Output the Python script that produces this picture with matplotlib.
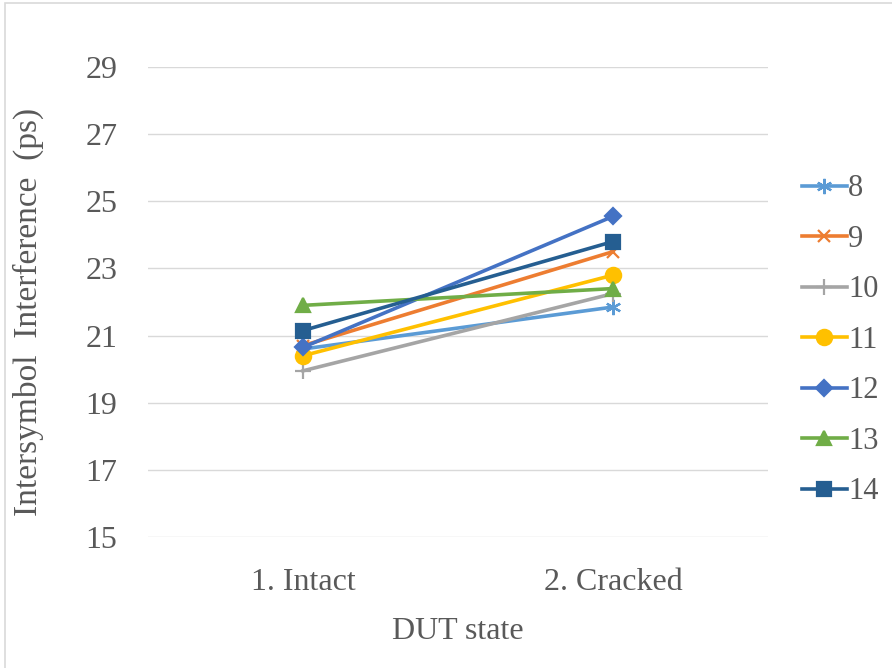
import matplotlib.pyplot as plt
from matplotlib.patches import Rectangle

plt.rcParams["font.family"] = ["Liberation Serif", "DejaVu Serif"]

states = ["1. Intact", "2. Cracked"]
series = ["8", "9", "10", "11", "12", "13", "14"]
intact = [20.6, 20.7, 19.95, 20.4, 20.65, 21.9, 21.15]
cracked = [21.85, 23.5, 22.25, 22.8, 24.55, 22.4, 23.8]

colors = ["#5B9BD5", "#ED7D31", "#A5A5A5", "#FFC000", "#4472C4", "#70AD47", "#255E91"]
markers = [(6, 2, 0), "x", "+", "o", "D", "^", "s"]
msizes = [11, 9, 11, 11, 8, 10, 10]

fig = plt.figure(figsize=(8.92, 6.68), dpi=100)
ax = fig.add_axes([148 / 892, 1 - 537 / 668, 620 / 892, 470 / 668])

# outer chart frame
fig.add_artist(Rectangle((5 / 892, -0.01), 1.0, 1 - 3 / 668 + 0.01, transform=fig.transFigure,
                         fill=False, edgecolor="#D9D9D9", linewidth=1.2))

x = range(len(states))
for i, name in enumerate(series):
    ax.plot(x, [intact[i], cracked[i]], color=colors[i], marker=markers[i],
            markersize=msizes[i], markeredgewidth=1.6, linewidth=2.6, label=name)

ax.set_xlim(-0.5, 1.5)
ax.set_ylim(15, 29)
ax.set_yticks(range(15, 30, 2))
ax.set_xticks(list(x))
ax.set_xticklabels(states)
ax.grid(axis="y", color="#D9D9D9", linewidth=1)
ax.set_axisbelow(True)
for s in ax.spines.values():
    s.set_visible(False)
ax.tick_params(length=0, labelsize=23, colors="#595959")
ax.tick_params(axis="x", pad=22)
ax.tick_params(axis="y", pad=22)

ax.set_xlabel("DUT state", fontsize=23, color="#595959", labelpad=15)
ax.set_ylabel("Intersymbol  Interference  (ps)", fontsize=24, color="#595959")
ax.yaxis.set_label_coords((44 - 148) / 620, (537 - 312) / 470)

leg = fig.legend(loc="upper left", bbox_to_anchor=(790 / 892, 1 - 162 / 668), frameon=False,
                 fontsize=22, labelcolor="#595959", handlelength=1.45, handletextpad=0.05,
                 labelspacing=0.705, borderaxespad=0)

fig.savefig("out.png", dpi=100)
